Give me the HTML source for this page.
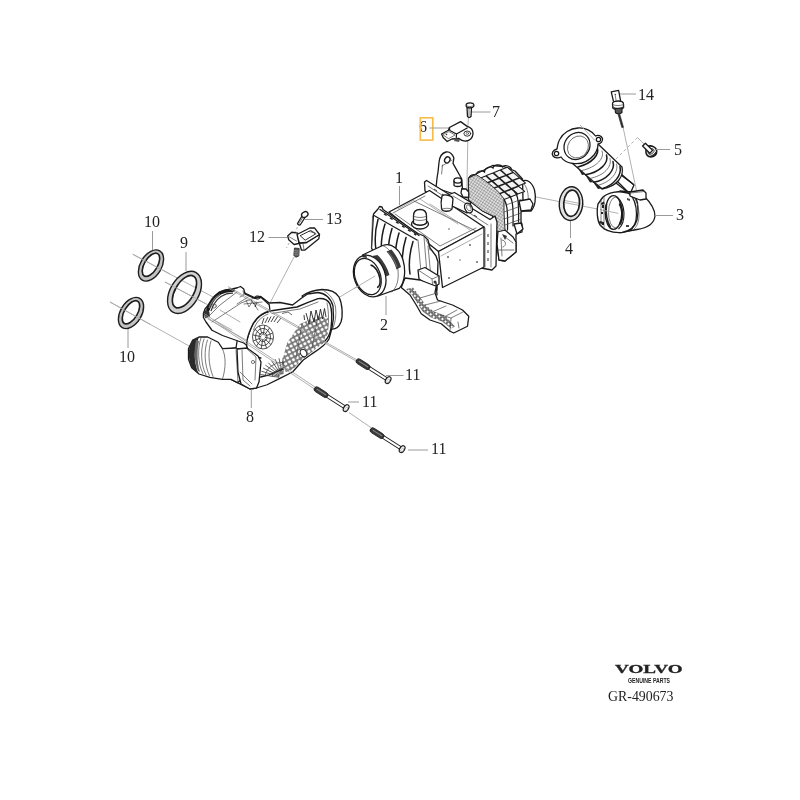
<!DOCTYPE html>
<html><head><meta charset="utf-8">
<style>
html,body{margin:0;padding:0;background:#fff;}
svg{display:block;will-change:transform;filter:blur(0.3px);}
.lb{font-family:"Liberation Serif",serif;font-size:16px;fill:#222;}
.ld{stroke:#9a9a9a;stroke-width:1;fill:none;}
.ax{stroke:#a8a8a8;stroke-width:0.9;fill:none;}
.o{stroke:#1a1a1a;stroke-width:1.3;fill:#fff;stroke-linejoin:round;stroke-linecap:round;}
.on{stroke:#1a1a1a;stroke-width:1.25;fill:none;stroke-linejoin:round;stroke-linecap:round;}
.t{stroke:#444;stroke-width:0.7;fill:none;stroke-linecap:round;stroke-linejoin:round;}
.tl{stroke:#777;stroke-width:0.6;fill:none;stroke-linecap:round;}
</style></head>
<body>
<svg width="800" height="800" viewBox="0 0 800 800">
<g class="ax">
<line x1="132.75" y1="254.25" x2="214" y2="297.5"/>
<line x1="165" y1="282" x2="210" y2="306"/>
<line x1="110" y1="302" x2="190" y2="346.5"/>
<line x1="294" y1="257" x2="270" y2="303"/>
<line x1="297.5" y1="227" x2="286.5" y2="248" stroke-dasharray="2.5,2"/>
<line x1="338" y1="298" x2="375" y2="276"/>
<line x1="468.5" y1="117" x2="467.8" y2="127"/>
<line x1="467.8" y1="141" x2="466" y2="235"/>
<line x1="536" y1="197" x2="618" y2="213"/>
<line x1="623" y1="127" x2="637" y2="193"/>
<line x1="637.5" y1="137.5" x2="644" y2="144"/>
<line x1="637.5" y1="137.5" x2="615" y2="160" stroke-dasharray="3,2.5"/>
</g>
<defs>
<pattern id="hexg" width="4.4" height="4.4" patternUnits="userSpaceOnUse" patternTransform="rotate(-28)">
<rect width="4.4" height="4.4" fill="#7a7a7a"/>
<circle cx="2.2" cy="2.2" r="1.55" fill="#fff"/>
</pattern>
</defs>
<g id="p8">
<!-- rear outlet port -->
<path class="o" d="M302,296 C308,292 314,290 322,289.5 C330,289.5 336,292 339,297 C342.5,304 343,316 341,322 C339,327 335,329.5 331,329 L320,322 Z"/>
<path class="t" d="M324,291 C330,294 334,300 335.5,307 C336.5,315 335.5,322 333,328"/>
<!-- main housing silhouette -->
<path class="o" d="M244.8,293 L254.4,297.5 L260.75,296.5 L269.25,303 L280,302.5 L292.6,305 L301,298.5 L307.5,294 L318,292.5 C325,293 331,298 333,306 L333.5,318 L332,328 L329,339 C326,345 318,350 311.75,354 L303.25,360 L292.6,372 L279.9,378.4 L267.1,384.75 L256.5,388 L250,389 L237.4,382.6 L231,379.4 L222.5,379.4 L222,350 L236,348 Z"/>
<!-- face outline (D shape) -->
<path class="on" style="stroke-width:1.4" d="M270,311 L283,309 L297,307 L307.5,302.6 L318,298.6 C324,298 328,300 330,304 C332,310 332,320 331,328 C330,334 328,338 325,341 L316,347.25 L299,360 L284,368.5 L269.25,374.9 L260.75,377"/>
<path class="on" style="stroke-width:1.6" d="M270,311 C262,313 255,318 251,328 C248,335 246.5,340 246.5,345 C247,351 252,356 260.75,358"/>
<path class="t" d="M272,313.5 L284,311.5 L300,309 L318,302 M327,303 C329,312 329,324 327,334 L322,341 M268,314 C261,317 256,322 253.5,330"/>
<!-- grid lower right -->
<path d="M300,324 L318,316 L328,318 L328,333 L322,344 L312,352 L303,359 L293,369 L286,372 L281,366 L287,343 Z" fill="url(#hexg)"/>
<path class="t" d="M302,324 L296,358 M318,316 L312,348"/>
<ellipse cx="303.5" cy="353" rx="3" ry="3.8" transform="rotate(-30 303.5 353)" class="o" style="stroke-width:0.9"/>
<!-- V spokes top right of face -->
<path d="M306,313 L309,324 L311,311 L314,322 L316,310 L318.5,320 L320.5,309 L322.5,319 L324.5,308.5 L326,317 M304,315 L304.5,320" stroke="#222" stroke-width="0.9" fill="none"/>
<path d="M282,313.5 L288,312 L292,315" stroke="#444" stroke-width="0.8" fill="none"/>
<!-- fan spokes left region -->
<path d="M262,324 L264,318 M265,323 L268,317 M268,322.5 L271,316.5 M271,322 L274.5,316 M274,322 L278,316 M277,323 L281,318" stroke="#333" stroke-width="0.9" fill="none"/>
<path d="M265.0,337.4 L273.3,339.1 M264.5,338.4 L271.0,344.7 M263.7,339.1 L266.6,348.3 M262.7,339.2 L261.2,348.8 M261.7,338.7 L256.3,346.2 M261.1,337.8 L253.1,341.1 M261.0,336.6 L252.7,334.9 M261.5,335.6 L255.0,329.3 M262.3,334.9 L259.4,325.7 M263.3,334.8 L264.8,325.2 M264.3,335.3 L269.7,327.8 M264.9,336.2 L272.9,332.9" stroke="#333" stroke-width="0.85" fill="none"/>
<ellipse cx="263" cy="337" rx="4" ry="4.56" fill="none" stroke="#333" stroke-width="0.85"/><ellipse cx="263" cy="337" rx="7.5" ry="8.55" fill="none" stroke="#333" stroke-width="0.85"/><ellipse cx="263" cy="337" rx="10.5" ry="11.97" fill="none" stroke="#333" stroke-width="0.85"/>
<!-- lower region spokes -->
<path d="M279.1,377.3 L260.3,374.5 M279.2,376.6 L261.4,371.2 M279.5,376.0 L263.1,368.0 M279.9,375.4 L265.4,365.1 M280.4,374.9 L268.2,362.7 M281.0,374.5 L271.5,360.7 M281.6,374.2 L275.1,359.2 M282.3,374.1 L279.0,358.3 M283.0,374.0 L283.0,358.0" stroke="#333" stroke-width="0.8" fill="none"/>
<path d="M272.1,376.7 A11,9.7 0 0 1 283.4,368.3 M265.2,375.8 A18,15.8 0 0 1 283.6,362.2" stroke="#444" stroke-width="0.8" fill="none"/>
<!-- upper-left block -->
<path class="o" d="M203.4,313.5 L205,309 L214,298.4 L220,292 L230,289.5 L237.4,287.75 L240.5,286.5 L243.75,289 L245,294 L254.4,298.4 L260.75,297.3 L264,300 L269.25,304.75 L270,311 C262,313 255,318 251,328 C248,335 246.5,340 246.5,345 L243.75,343 L222.5,335.5 L212,330.25 L206,322 L203.4,317.5 Z"/>
<path d="M208,309.5 C210,302.5 214,297 220,293 C224,290.8 228.5,290 233,290.3" stroke="#1a1a1a" stroke-width="3.6" fill="none" stroke-linecap="round"/>
<path d="M211,311 C213,305 216,300 221,296.5 C225,294 229,293 233,293.2" stroke="#333" stroke-width="1.2" fill="none"/>
<path d="M209,308 C211,302 215,297.5 220,294.5" stroke="#777" stroke-width="1.2" fill="none"/>
<path d="M203.4,313.5 C204,310 207,309.5 209,311.5 L209.5,316.5 L205.5,318 Z" fill="#333" stroke="#222" stroke-width="0.6"/>
<ellipse cx="214" cy="306" rx="2.3" ry="2" class="t"/>
<path class="t" d="M209,316 L220,305 L237,292 M212,322 L241,303 L253,298.5 M237,304 L248,297 M244,304 L262,302"/>
<path class="t" d="M240,297 L244,295 L243,291 M246,300 L249,307 L252,302 M254,304 L258,310"/>
<path d="M251,300 L254,304 L257,302 L255,307" stroke="#222" stroke-width="1" fill="none"/>
<path class="tl" d="M220,310 L240,322 M214,320 L232,330 M208,319 L248,341"/>
<ellipse cx="257.5" cy="297.5" rx="2.5" ry="1.7" class="on" style="stroke-width:0.9"/>
<!-- lower elbow pipe -->
<path class="o" d="M199,337 L207.6,337 L218.25,342.25 L222.5,348.6 L236,348 L246,352 L248,365 L244,378 L237.4,382.6 L231,379.4 L222.5,379.4 L209.75,377.3 L199,374 L191.7,367.75 L188.5,359.25 L188.5,348.6 L192.75,340.1 Z"/>
<path d="M192.75,340.1 C188,346 187.5,358 191.7,367.75 L199,374 C194.5,366 193.5,352 196.5,344 L199,337 Z" fill="#2a2a2a"/>
<path d="M196,340 C194,348 194,362 198,371 L200,372 C197,363 197,349 199,341 Z" fill="#666"/>
<path class="t" d="M201,338 C197.5,347 197.5,364 203,373.5 M204,339 C200.5,349 200.5,364 206,375 M207.5,340 C204,350 204,364 209.5,376 M211,341 C208,350 208,364 213,376.5"/>
<path class="t" d="M222.5,349 C226,356 226,368 222.5,379 M236,350 L238,382"/>
<!-- bracket under -->
<path class="o" d="M237,349 L247,348 L258,356 L261,362 L259,382 L256.5,388 L250,389 L241,384 L238,372 Z"/>
<path class="t" d="M242,350 L243,380 L250,386 M247,349 L256,357 L255,380 M240,372 L252,384"/>
<circle cx="253" cy="362" r="1.6" class="t"/>
</g>
<g class="ax" style="stroke:#999;stroke-width:0.8">
<line x1="228" y1="286.5" x2="357" y2="360"/>
<line x1="228.5" y1="288.3" x2="357" y2="361.6"/>
<line x1="204" y1="313.5" x2="315" y2="387"/>
<line x1="204" y1="315.3" x2="314" y2="388.6"/>
<line x1="349" y1="412.5" x2="371.5" y2="428"/>
</g>
<defs>
<pattern id="hx" width="2.6" height="2.6" patternUnits="userSpaceOnUse" patternTransform="rotate(33)">
<rect width="2.6" height="2.6" fill="#e0e0e0"/>
<path d="M0,0 L2.6,0 M0,0 L0,2.6" stroke="#666" stroke-width="0.7"/>
</pattern>
<pattern id="dots" width="4" height="4" patternUnits="userSpaceOnUse" patternTransform="rotate(40)">
<rect width="4" height="4" fill="#fff"/>
<circle cx="2" cy="2" r="1.35" fill="#fff" stroke="#222" stroke-width="1"/>
</pattern>
</defs>
<g id="p1">
<!-- outlet flange right -->
<path class="o" d="M522,181 C527,179 532,182 534.5,190 C536.5,198 535,207 531,211 L522,211 Z"/>
<path class="t" d="M523,183 C527,186 529,194 528,203 C527.5,207 526,209 524,210"/>
<!-- cast block right side -->
<path class="o" d="M468.5,178 L476,174 L484,170 L492.5,165.5 L503.75,166.5 L515,171 L522.5,179 L523,200 L526,204 L526,210 L521,212 L521,222 L522,224 L522,232 L516,234 L516,252 L505,261 L499,260 L497,244 L495,232 L492.5,216 L482.5,211 L468.5,200 Z"/>
<!-- top cells -->
<path d="M479.1,178.5 L485.7,175.9 L491.6,181.0 L484.7,183.6 Z M486.3,175.6 L492.9,173.0 L498.8,178.1 L491.9,180.7 Z M493.5,172.7 L500.1,170.1 L506.0,175.2 L499.1,177.8 Z M500.7,169.8 L507.3,167.2 L513.2,172.3 L506.3,174.9 Z M485.3,183.9 L491.9,181.3 L497.8,186.4 L490.9,189.0 Z M492.5,181.0 L499.1,178.4 L505.0,183.5 L498.1,186.1 Z M499.7,178.1 L506.3,175.5 L512.2,180.6 L505.3,183.2 Z M506.9,175.2 L513.5,172.6 L519.4,177.7 L512.5,180.3 Z M491.5,189.3 L498.1,186.7 L504.0,191.8 L497.1,194.4 Z M498.7,186.4 L505.3,183.8 L511.2,188.9 L504.3,191.5 Z M505.9,183.5 L512.5,180.9 L518.4,186.0 L511.5,188.6 Z M513.1,180.6 L519.7,178.0 L525.6,183.1 L518.7,185.7 Z M497.7,194.7 L504.3,192.1 L510.2,197.2 L503.3,199.8 Z M504.9,191.8 L511.5,189.2 L517.4,194.3 L510.5,196.9 Z M512.1,188.9 L518.7,186.3 L524.6,191.4 L517.7,194.0 Z" fill="#f4f4f4" stroke="#1e1e1e" stroke-width="1.1" stroke-linejoin="round"/>
<!-- right side ribs -->
<path class="on" d="M503.5,199 C507,203 508,210 507.5,230 M509,195 C512.5,199 513.5,206 513,226 M514.5,191.5 C518,195 519,202 518.5,222"/>
<path class="t" d="M504,212 L521,206 M504,219 L521,213 M505,225 L520,219.5 M506,205 L521,199.5"/>
<path class="o" d="M519,201 L530,199 L533,204 L531,210 L521,211 Z"/>
<!-- top bumps -->
<path d="M469,179 C469,175 474,173.5 476,175.5 C476,171.5 482,169.5 484.5,172 C484.5,168 490.5,165.5 493,168 C494,164 501,164 502.5,167 C505,164.5 511,166 511.5,169.5" fill="none" stroke="#1a1a1a" stroke-width="1.2"/>
<!-- bottom bracket P -->
<path class="o" d="M498,231 L505,230 L513,237 L516,242 L516,252 L505,261 L499,260 L497,244 Z"/>
<path class="t" d="M501,238 L502,256 M502,240 C506,240 507,246 503,247 M505,237 L513,243 M498,250 L514,250"/>
<path d="M502,234 L507,236 L505,240 Z" fill="#333"/>
<path class="o" d="M514,224 L521,223 L523,229 L517,234 Z"/>
<!-- hatched front face of block -->
<path d="M468.5,178 L476,174.5 C488,182 498,190 504,199 L504,212 L505,230 L497,232 L493,216 L482.5,211 L468.5,200 Z" fill="url(#hx)" stroke="#222" stroke-width="0.9"/>
<!-- bracket loop -->
<path class="o" d="M436,188 L437,178.25 L438.1,171.25 L439,162.5 C439.5,157 442,153 446,152 C449,151.5 452,153 453.9,158 L453,163.4 L461.75,179 L463,197 Z"/>
<ellipse cx="447.3" cy="159.9" rx="2.6" ry="3.2" transform="rotate(30 447.3 159.9)" class="on" style="stroke-width:1.3"/>
<path class="t" d="M442.5,165 L441.6,174 M442,166 L452,160"/>
<!-- rear frame -->
<path class="o" d="M424.5,182 L426.5,180.5 L429,182 L490,219.5 L495,216 L497,222 L496,266 L492,270 L481,268 L481,230 L425,191 Z"/>
<path class="t" d="M428,186 L488,225 M485,228 L485,267 M491,224 L491,267"/>
<path d="M434,189 l3,2 M442,194 l3,2 M450,200 l3,2 M458,205 l3,2 M466,210 l3,2 M474,215 l3,2 M488,234 l0,3 M488,242 l0,3 M488,250 l0,3 M488,258 l0,3" stroke="#333" stroke-width="1"/>
<!-- small cap + plate on rail -->
<path class="o" d="M454,181 L454,185 C454,187 461.5,187 461.5,185 L461.5,181 Z"/><ellipse cx="457.75" cy="180.5" rx="3.8" ry="2.6" class="o"/>
<path class="o" d="M461.75,188.75 L466,189 L468.75,192 L468.75,197.5 L463,197 L461,193 Z"/>
<!-- top face of core -->
<path class="o" d="M389,212 L429.5,190.5 L484,227 L438.5,251.5 Z"/>
<path class="t" d="M393,213 L425,196 M414,201 L476,231 M395,214 L440,246 L476,228"/>
<path class="tl" d="M398,209 L414,200 M430,204 L470,230 M420,199 L458,224"/>
<circle cx="449" cy="229" r="0.8" fill="#555"/>
<!-- side face of core -->
<path class="o" d="M438.5,251.5 L484,227 L484,267 L442.5,287.5 Z"/>
<path class="tl" d="M441,256 L482,234"/>
<g fill="#555"><circle cx="448" cy="257" r="0.9"/><circle cx="470" cy="245" r="0.9"/><circle cx="449" cy="278" r="0.9"/><circle cx="477" cy="262" r="0.9"/><circle cx="460" cy="260" r="0.7"/></g>
<!-- vertical elbow + horizontal pipe stub on top -->
<path class="o" d="M449,194.5 L454.5,192.5 L471,202.5 L467,213 L450,205 Z"/>
<path class="t" d="M453,196 L469,205.5"/>
<ellipse cx="468.5" cy="208" rx="3.6" ry="5.2" transform="rotate(-28 468.5 208)" class="o"/>
<ellipse cx="468.8" cy="207.8" rx="2" ry="3.3" transform="rotate(-28 468.8 207.8)" class="t"/>
<path class="o" d="M442,196 C441,200 441,206 441.6,209 C443,212 450,212 452,209 L453,199 C452,195 444,194 442,196 Z"/>
<path class="t" d="M441.6,209 C444,208 450,208 452,209"/>
<!-- cap boss on top face -->
<ellipse cx="420" cy="224" rx="8.5" ry="5" class="o"/>
<path class="o" d="M413.5,223 L413.5,216 C413.5,211 416,209.5 420,209.5 C424,209.5 426.5,211 426.5,216 L426.5,223 C424,226 416,226 413.5,223 Z"/>
<path class="t" d="M413.5,216 C416,218 424,218 426.5,216 M413.5,219 C416,221 424,221 426.5,219"/>
<!-- front frame -->
<path class="o" d="M373.5,214 L378,209 L379.5,206.5 L382,207 L383,209.5 L418,233.5 L424,236 L428,240 L430,248 L436,256 L438,262 L437,290 L430,292 L405,285 L380,265 L371.5,248 Z"/>
<path class="on" d="M380,209.5 L419,235.5 M374,215.5 L417,240"/>
<path class="t" d="M372.5,216 L371.5,248 M418,240 L421,272 M424,237 L427,274 M428,246 L432,288 M426,240 C428,243 430,247 430,250"/>
<path d="M384,213.8 l2.6,1.7 M390,217.8 l2.6,1.7 M396,221.8 l2.6,1.7 M402,225.8 l2.6,1.7 M408,229.8 l2.6,1.7 M414,233.6 l2.2,1.5" stroke="#222" stroke-width="1.4"/>
<path class="on" style="stroke-width:1.5" d="M378,219.5 C375,230 374.5,240 376,250 M385,224 C381.5,235 380.5,246 382,256 M392,228.5 C388.5,240 387.5,251 389,261 M399,233 C395.5,245 394.5,256 396,266 M406,237.5 C402.5,249 401.5,260 403,270 M413,241.5 C409.5,253 408.5,264 410,274"/>
<!-- small bracket on frame side -->
<path class="o" d="M418,270 L425,267.5 L439,276 L439,284 L433,288 L419,279 Z"/>
<path class="t" d="M418,270 L432,279 L439,276 M432,279 L433,288"/>
<circle cx="435" cy="282" r="1.5" fill="#333"/>
<path class="on" d="M436,283 L437,295"/>
<!-- leg bracket -->
<path class="o" d="M401.25,287.5 L410,295 L416.25,305 L421.25,313.75 L430,320 L441.25,323.75 L450,331.25 L453.75,333 L467.5,326.25 L468.75,316.25 L462.5,310 L452.5,305 L441.25,301.25 L437.5,300 L435,292.5 L436.25,286.25 L420,280 L405,278 Z"/>
<path d="M406,289 L412,295 L417.5,303.5 L422.5,311.5 L431,317.5 L442,321.5 L451,328.5 L455,326.5 L449,320 L445,315.5 L434,311.5 L426,305.5 L420,297 L413,287.5 Z" fill="url(#dots)" stroke="none"/>
<path class="t" d="M420,298 L437,293 M425,305 L441,301 M432,312 L446,306 M446,316 L457,310"/>
<path class="t" d="M450,331 L451,318 L463,312 M451,318 L441,315 M458,322 L459,328"/>
</g>
<!-- Part 2 ring -->
<g id="p2">
<path class="o" d="M362.5,255 L382.6,245.5 C392,242 400,250 403,260 C406,270 405,282 399.25,288.4 L378,296 Z"/>
<path class="t" d="M382.6,245.5 C390,248 396,258 398,270 C399,280 397,287 392,292"/>
<path d="M386.5,251.5 L391.5,249.5 C396,255 399.5,261 401,267 L396.5,269.5 C395,263.5 391.5,257 386.5,251.5 Z" fill="#3a3a3a"/>
<path d="M373.5,258 L378.5,255.8 C383.5,261 387.5,268 389.5,275 L384.5,277 C383,270.5 379,263.5 373.5,258 Z" fill="#3a3a3a"/>
<path d="M388,252 C392,256 395,261 397,267 M375,258.5 C379.5,263 383,268.5 385.5,275" stroke="#999" stroke-width="0.6" fill="none"/>
<ellipse cx="369.7" cy="276" rx="15.5" ry="21.5" transform="rotate(-20 369.7 276)" class="o"/>
<ellipse cx="367.8" cy="276.5" rx="12.6" ry="18.8" transform="rotate(-20 367.8 276.5)" class="on" style="stroke-width:1.2"/>
<path d="M370.5,265 C375,266 379,272 380,279 C380.5,284 379,287 377,287.5" stroke="#1a1a1a" stroke-width="1.5" fill="none"/>
<path d="M361,257 L366,254 L367,258 Z M372,256 L378,255 L377,260 Z" fill="#333"/>
<line x1="354" y1="288.6" x2="375" y2="276" class="ax"/>
</g>
<g id="p3">
<!-- narrow tube from bellows to elbow -->
<path class="o" d="M617,172 L621,174 L634,185 L630,194 L616,183 Z"/>
<path class="on" d="M621,175 L633,184 M617,181 L629,193"/>
<!-- elbow body -->
<path class="o" d="M605,196 L620,191 L632,192 L644,196 C650,202 655,210 655,216 C654,224 648,228 637,229.5 L620,232.5 L605,229 Z"/>
<!-- front ring -->
<path class="o" d="M603,197 C608,193 615,191.5 622,192 C630,192.5 636,196 637.5,203 L638,212 L637,220 C635,227 630,231 622,232.5 C614,233 605,231 600,225 C597,220 596.5,210 598,204 Z"/>
<path class="on" d="M629,193 C634,198 636.5,206 636.5,214 C636.5,222 634,228 629,231"/>
<path class="t" d="M632,194 C637,200 639,208 639,215 C639,222 637,227 633,230"/>
<ellipse cx="613.5" cy="212.5" rx="8.3" ry="16.8" class="on" style="stroke-width:1.3"/>
<ellipse cx="615.5" cy="212.5" rx="7" ry="15.3" class="t"/>
<path d="M606.5,204 C605.5,213 606.5,221 610.5,227.5" stroke="#222" stroke-width="1.6" fill="none"/>
<line x1="600" y1="209.6" x2="618.4" y2="213.4" class="ax"/>
<path d="M617,197 C621.5,201 623.8,207 624,213 C624.2,220 622,226 618.5,229" stroke="#1a1a1a" stroke-width="1.1" fill="none"/>
<path d="M619.5,203.5 C621.5,207 622.3,211 622.3,215 C622.3,219 621.5,222 620,224.5" stroke="#1a1a1a" stroke-width="2" fill="none"/>
<path d="M601,203 l3,-1.5 l0.5,2.5 l-3,1z M599.5,221 l3,0.5 l-0.3,2.5 l-3,-0.8z" fill="#1a1a1a"/>
<path class="t" d="M601,199 L601,226 M604,196 L604,229"/>
<path d="M602,205 l2,0 l0,3 l-2,0z M601,212 l2,0 l0,2 l-2,0z M602,222 l2,0 l0,3 l-2,0z" fill="#222"/>
<path d="M627,198 l3,1 l0,2 l-3,-1z M626,225 l3,0 l0,2 l-3,0z" fill="#444"/>
<!-- clamp -->
<path class="o" d="M630,192 L643,190 L646,193 L646,199 L640,200 L630,196 Z"/>
<path class="t" d="M631,193 L644,191.5"/>
<!-- bellows tube -->
<path class="o" d="M572,163 L598,144 L622,167 C624,176 618,186 602,189 Z"/>
<g class="on" style="stroke-width:1.5">
<path d="M597,147 C600,154 593,163 578,167"/>
<path d="M606.5,155 C609,163 600,172 585.6,174.8"/>
<path d="M613,161.5 C615.5,170 607,180 593.4,182.3"/>
<path d="M620,166.6 C622,175 614,185 602.8,188.4"/>
</g>
<path class="t" d="M602,151 C605,158 597,167 582,170.5 M610,158.5 C612.5,166.5 604,176 589.5,178.5 M616.5,164 C619,172 611,182 598,185.3"/>
<path d="M577,166.5 L585,174.5 L582,175 Z M585,174.5 L593,182 L590,182.5 Z M593,182 L602.5,188.3 L598,189 Z" fill="#222"/>
<!-- flange -->
<path class="o" d="M557,149 C553,150 551,153 553,156 C555,158.5 559,158 561,157 C563,160 568,163 573,163.5 C581,164.5 589,161 594,155 C597,151 598,147 598,144 C601,144 603,141 602.5,138.5 C601.5,135.5 598,134.5 595.5,136 C592,131 585,127.5 578,128 C570,128.5 563,133 560,139 C558,142 557.5,146 557,149 Z"/>
<ellipse cx="577" cy="146" rx="12.5" ry="14" transform="rotate(35 577 146)" class="on"/>
<ellipse cx="578" cy="147" rx="10" ry="11.5" transform="rotate(35 578 147)" class="t"/>
<circle cx="556.5" cy="153.5" r="2.2" class="on"/>
<circle cx="598.5" cy="139.5" r="2.2" class="on"/>
</g>
<g id="small">
<!-- part 14 sensor -->
<path class="o" d="M611.25,91.8 L618.6,90.35 L620.8,101.9 L614,103.6 Z"/>
<path class="t" d="M615,94 L616,100"/>
<circle cx="615.5" cy="94.5" r="0.6" fill="#333"/>
<path class="o" d="M612.5,104 C612,102 615,101 618,101 C621,101 623.5,102 623.5,104 L623.6,107.5 C623,109.5 614,110 612.8,108 Z"/>
<path class="t" d="M612.6,104.5 C615,106 621,106 623.5,104.5"/>
<path d="M612.8,106 C615,108.5 621,108.5 623.5,106 L623.6,107.5 C622,110 614,110 612.8,108 Z" fill="#444"/>
<path d="M615,108.5 L622,108 L622,112.5 C620,114 617,114 615.5,112.8 Z" fill="#555" stroke="#1a1a1a" stroke-width="1.1"/>
<path d="M617.8,113.5 L619.5,113.3 L623.5,127.3 L621.8,127.6 Z" fill="#333" stroke="#222" stroke-width="0.6"/>
<!-- part 5 bolt -->
<path d="M647,146.5 C651.5,144.8 656.3,147 656.7,151 C657,155 654,157 650.5,156.9 C647,156.8 645.6,153.5 646,150.5 Z" fill="#fff" stroke="#1a1a1a" stroke-width="1.6"/>
<path d="M656.2,152 C655.5,155 653,156.6 650,156.5 C652.5,155.5 654.5,154 656.2,152 Z" fill="#222" stroke="#222" stroke-width="1"/>
<ellipse cx="651" cy="151.5" rx="3.4" ry="2.4" transform="rotate(-40 651 151.5)" fill="none" stroke="#333" stroke-width="0.9"/>
<path d="M642.6,146 L645.4,143.2 L652.6,150.4 L649.8,153.2 Z" fill="#fff" stroke="#1a1a1a" stroke-width="1.3" stroke-linejoin="round"/>
<!-- part 7 bolt -->
<path class="o" d="M467,107.5 L471.5,107.5 L471,116.5 C470,117.5 468.5,117.5 467.5,116.5 Z"/>
<path class="t" d="M469,108.5 L469,115.5"/>
<ellipse cx="470" cy="105.3" rx="3.9" ry="2.5" class="o" style="stroke-width:1.3"/>
<path class="t" d="M466.5,105.5 C468,107 472,107 473.5,105.5"/>
<!-- part 6 sensor -->
<path class="o" d="M441.6,134 L448.4,130.2 L449.4,127.5 L460.6,121.6 L467.2,126.4 C471,127.5 473.2,130.5 473,134 C472.8,138 469.5,140.8 466,141 C463,141.2 460.5,140 459,138.5 L452,139 L447.2,141.5 L443.1,137.5 Z"/>
<path class="on" d="M449.4,127.5 L449.8,130.5 L456.5,134 L467.2,128 M456.5,134 L456.3,137.5"/>
<path class="t" d="M443,134.5 L449,131.5 L455,135 L449,138.5 Z"/>
<circle cx="446.5" cy="134.5" r="0.8" fill="#333"/>
<ellipse cx="467.3" cy="133.6" rx="3.4" ry="2.6" class="on" style="stroke-width:0.9"/>
<circle cx="467.3" cy="133.4" r="1.2" class="t"/>
<path d="M455,138 L460,139.5 L459,142 L454,141 Z" fill="#555"/>
<!-- part 13 bolt -->
<path class="o" d="M302,216 L305,217.5 L300.5,224.5 C299.5,225.5 297.7,225 297.5,223.5 Z"/>
<path class="t" d="M302.5,218 L299,223.5"/>
<ellipse cx="304.8" cy="214.5" rx="3.4" ry="2.6" transform="rotate(-30 304.8 214.5)" class="o" style="stroke-width:1.3"/>
<!-- part 12 sensor -->
<path d="M294.5,248 L299.2,248.5 L298.8,256 L296,257.2 L293.8,255.5 Z" fill="#555" stroke="#222" stroke-width="0.8"/>
<path d="M294.2,250.5 L299,251 M294.2,252.5 L298.9,253 M294.2,254.5 L298.8,255" stroke="#bbb" stroke-width="0.5"/>
<path class="o" d="M287.7,236 L291.75,232.25 L297.75,233.2 L298.8,243.5 L294,244.5 L288.75,239.75 Z"/>
<path class="t" d="M289.5,237 L296.5,241"/>
<path class="o" d="M306.5,242.5 L319.5,234.5 L318.8,238.8 L305,250 L301.5,250.2 L299.3,243 Z"/>
<path class="o" d="M297,234.5 L309.75,228 L314.5,227.8 L319.5,234.5 L306.5,242.5 L299.3,243 Z"/>
<path class="on" d="M300.5,235.5 L310.5,230.5 L315.5,234 L305.5,240 Z" style="stroke-width:0.9"/>
<path class="t" d="M309,231.5 L314,232.5 M311,230.8 L316,233.5"/>
<path class="t" d="M303,243.5 L304,249.5"/>
</g>
<g transform="translate(151,265.5) rotate(-59)"><ellipse rx="15.0" ry="8.6" fill="none" stroke="#c2c2c2" stroke-width="4"/><ellipse rx="17" ry="10.6" fill="none" stroke="#1e1e1e" stroke-width="1.4"/><ellipse cx="0.6" cy="-0.4" rx="13.5" ry="7.1" fill="none" stroke="#eee" stroke-width="1"/><ellipse cx="0.6" cy="-0.4" rx="13" ry="6.6" fill="none" stroke="#1e1e1e" stroke-width="1.7"/></g>
<g transform="translate(184.5,292.4) rotate(-59.5)"><ellipse rx="20.5" ry="11.8" fill="none" stroke="#d0d0d0" stroke-width="5"/><ellipse rx="23" ry="14.3" fill="none" stroke="#1e1e1e" stroke-width="1.4"/><ellipse cx="0.6" cy="-0.4" rx="18.5" ry="9.8" fill="none" stroke="#eee" stroke-width="1"/><ellipse cx="0.6" cy="-0.4" rx="18" ry="9.3" fill="none" stroke="#1e1e1e" stroke-width="1.7"/></g>
<g transform="translate(131,313) rotate(-59)"><ellipse rx="15.0" ry="8.6" fill="none" stroke="#c2c2c2" stroke-width="4"/><ellipse rx="17" ry="10.6" fill="none" stroke="#1e1e1e" stroke-width="1.4"/><ellipse cx="0.6" cy="-0.4" rx="13.5" ry="7.1" fill="none" stroke="#eee" stroke-width="1"/><ellipse cx="0.6" cy="-0.4" rx="13" ry="6.6" fill="none" stroke="#1e1e1e" stroke-width="1.7"/></g>
<g class="ax">
<line x1="132.75" y1="254.25" x2="170" y2="274"/>
<line x1="165" y1="282" x2="205" y2="303.3"/>
<line x1="110" y1="302" x2="150" y2="324.3"/>
<line x1="559" y1="199.4" x2="584" y2="204.3"/>
<line x1="580" y1="125" x2="595" y2="140.5"/>
</g>
<g transform="translate(571,203.6) rotate(4)"><ellipse rx="9.799999999999999" ry="14.999999999999998" fill="none" stroke="#e2e2e2" stroke-width="3.8"/><ellipse rx="11.7" ry="16.9" fill="none" stroke="#1e1e1e" stroke-width="1.4"/><ellipse cx="0.6" cy="-0.4" rx="8.399999999999999" ry="13.599999999999998" fill="none" stroke="#eee" stroke-width="1"/><ellipse cx="0.6" cy="-0.4" rx="7.8999999999999995" ry="13.099999999999998" fill="none" stroke="#1e1e1e" stroke-width="1.7"/></g>
<g transform="translate(356.5,360) rotate(32.5)"><rect x="0" y="-2.6" width="15.5" height="5.2" rx="2.6" fill="#3a3a3a" stroke="#1e1e1e" stroke-width="0.8"/><line x1="2.5" y1="-0.3" x2="13.5" y2="-0.3" stroke="#888" stroke-width="0.9"/><rect x="15.3" y="-1.5" width="20" height="3" fill="#fff" stroke="#1e1e1e" stroke-width="0.9"/><ellipse cx="37.5" cy="0" rx="2.3" ry="3.8" fill="#fff" stroke="#1e1e1e" stroke-width="1.2"/><ellipse cx="38" cy="0.5" rx="1" ry="2.2" fill="#fff" stroke="#888" stroke-width="0.5"/></g>
<g transform="translate(314.5,388) rotate(32.5)"><rect x="0" y="-2.6" width="15.5" height="5.2" rx="2.6" fill="#3a3a3a" stroke="#1e1e1e" stroke-width="0.8"/><line x1="2.5" y1="-0.3" x2="13.5" y2="-0.3" stroke="#888" stroke-width="0.9"/><rect x="15.3" y="-1.5" width="20" height="3" fill="#fff" stroke="#1e1e1e" stroke-width="0.9"/><ellipse cx="37.5" cy="0" rx="2.3" ry="3.8" fill="#fff" stroke="#1e1e1e" stroke-width="1.2"/><ellipse cx="38" cy="0.5" rx="1" ry="2.2" fill="#fff" stroke="#888" stroke-width="0.5"/></g>
<g transform="translate(370.5,429) rotate(32.5)"><rect x="0" y="-2.6" width="15.5" height="5.2" rx="2.6" fill="#3a3a3a" stroke="#1e1e1e" stroke-width="0.8"/><line x1="2.5" y1="-0.3" x2="13.5" y2="-0.3" stroke="#888" stroke-width="0.9"/><rect x="15.3" y="-1.5" width="20" height="3" fill="#fff" stroke="#1e1e1e" stroke-width="0.9"/><ellipse cx="37.5" cy="0" rx="2.3" ry="3.8" fill="#fff" stroke="#1e1e1e" stroke-width="1.2"/><ellipse cx="38" cy="0.5" rx="1" ry="2.2" fill="#fff" stroke="#888" stroke-width="0.5"/></g>
<g class="lb">
<text x="395" y="183">1</text>
<text x="380" y="330">2</text>
<text x="676" y="220">3</text>
<text x="565" y="254">4</text>
<text x="674" y="155">5</text>
<text x="419" y="131.8">6</text>
<text x="492" y="117">7</text>
<text x="246" y="422">8</text>
<text x="180" y="248">9</text>
<text x="144" y="227">10</text>
<text x="119" y="362">10</text>
<text x="405" y="380">11</text>
<text x="362" y="407">11</text>
<text x="431" y="454">11</text>
<text x="249" y="242">12</text>
<text x="326" y="224">13</text>
<text x="638" y="100">14</text>
</g>
<rect x="420.3" y="117.8" width="12.5" height="22.3" fill="none" stroke="#f7bb4a" stroke-width="1.6"/>
<g class="ld">
<line x1="399.5" y1="186" x2="399.5" y2="205"/>
<line x1="386" y1="296" x2="386" y2="315"/>
<line x1="655" y1="215.5" x2="673" y2="215.5"/>
<line x1="570.5" y1="221" x2="570.5" y2="238"/>
<line x1="656" y1="149.5" x2="670" y2="149.5"/>
<line x1="429.3" y1="128" x2="448" y2="128"/>
<line x1="472" y1="112" x2="490.5" y2="112"/>
<line x1="152.5" y1="231" x2="152.5" y2="250"/>
<line x1="186" y1="252" x2="186" y2="271"/>
<line x1="128" y1="329" x2="128" y2="348"/>
<line x1="251.3" y1="389" x2="251.3" y2="408"/>
<line x1="386" y1="375.5" x2="403.5" y2="375.5"/>
<line x1="348" y1="402" x2="359" y2="402"/>
<line x1="408" y1="450" x2="428" y2="450"/>
<line x1="268.5" y1="237.5" x2="287" y2="237.5"/>
<line x1="304.5" y1="219.5" x2="323" y2="219.5"/>
<line x1="620" y1="94" x2="636" y2="94"/>
</g>
<text x="615" y="673" font-family="Liberation Serif" font-weight="bold" font-size="12.5" fill="#222" stroke="#222" stroke-width="0.3" textLength="67.5" lengthAdjust="spacingAndGlyphs">VOLVO</text>
<text x="628" y="682.6" font-family="Liberation Sans" font-weight="bold" font-size="7" fill="#222" textLength="42" lengthAdjust="spacingAndGlyphs">GENUINE PARTS</text>
<text x="608" y="700.6" font-family="Liberation Serif" font-size="14.5" fill="#222" textLength="65.5" lengthAdjust="spacingAndGlyphs">GR-490673</text>
</svg>
</body></html>
